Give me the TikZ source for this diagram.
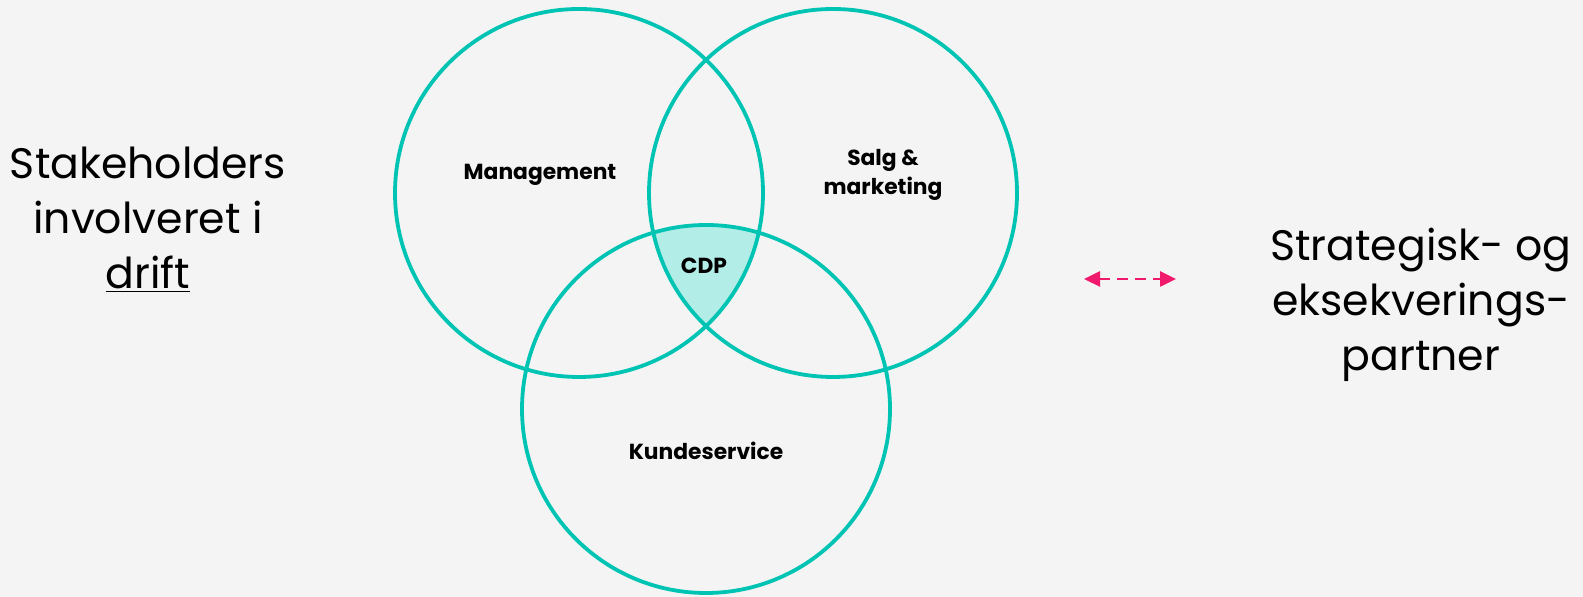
\documentclass[tikz,border=0pt]{standalone}
\usepackage{fontspec}
\setmainfont{Poppins}
\usetikzlibrary{arrows.meta}
\definecolor{bgcol}{HTML}{F4F4F4}
\definecolor{ringcol}{HTML}{00C4B3}
\definecolor{corecol}{HTML}{B3EDE7}
\definecolor{arrowcol}{HTML}{F0196B}
\tikzset{
  ring/.style={draw=ringcol, line width=1.9pt},
  area/.style={font=\bfseries\fontsize{10.9}{14.5}\selectfont, align=center},
  side/.style={font=\fontsize{21.3}{27.5}\selectfont, align=center},
  pinktip/.tip={Triangle[length=8pt, width=7.5pt]},
}
\begin{document}
\begin{tikzpicture}[x=0.5pt, y=0.5pt]
  \useasboundingbox (0,0) rectangle (1583,597);
  \fill[bgcol] (0,0) rectangle (1583,597);
  % centres of the three rings
  \coordinate (cM) at (579,404);
  \coordinate (cS) at (833,404);
  \coordinate (cK) at (706,188);
  \begin{scope}
    \clip (cM) circle[radius=92pt];
    \clip (cS) circle[radius=92pt];
    \fill[corecol] (cK) circle[radius=92pt];
  \end{scope}
  \draw[ring] (cM) circle[radius=92pt] (cS) circle[radius=92pt] (cK) circle[radius=92pt];
  % labels
  \node[area] (mgmt) at (540,422) {Management};
  \node[area] (salg) at (883,422) {Salg \&\\marketing};
  \node[area] (cdp) at (704,331) {CDP};
  \node[area] (kunde) at (706,146) {Kundeservice};
  \node[side] (stake) at (148,377) {Stakeholders\\involveret i\\\underline{drift}};
  \node[side] (partner) at (1421,292) {Strategisk- og\\eksekverings-\\partner};
  % arrow
  \coordinate (arrL) at (1084,318);
  \coordinate (arrR) at (1176,318);
  \draw[arrowcol, line width=1.3pt, dash pattern=on 5.5pt off 3.5pt, pinktip-pinktip] (arrL) -- (arrR);
\end{tikzpicture}
\end{document}
